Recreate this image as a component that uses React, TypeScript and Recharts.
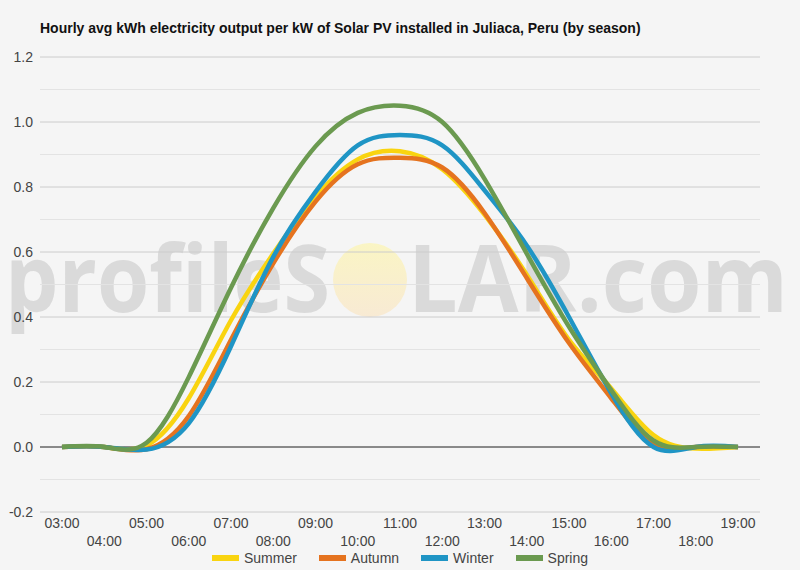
import { LineChart, Line, XAxis, YAxis, CartesianGrid, ReferenceLine, Legend } from "recharts";

// hourly average kWh per kW installed
const hours = [
  "03:00", "04:00", "05:00", "06:00", "07:00", "08:00", "09:00", "10:00", "11:00",
  "12:00", "13:00", "14:00", "15:00", "16:00", "17:00", "18:00", "19:00",
];
const summer = [0, 0, 0.005, 0.15, 0.39, 0.595, 0.77, 0.885, 0.91, 0.855, 0.715, 0.53, 0.33, 0.18, 0.037, -0.005, 0];
const autumn = [0, 0, -0.007, 0.095, 0.33, 0.565, 0.755, 0.87, 0.89, 0.86, 0.72, 0.52, 0.32, 0.15, 0.01, 0, 0];
const winter = [0, 0, -0.008, 0.073, 0.31, 0.585, 0.785, 0.928, 0.96, 0.928, 0.79, 0.62, 0.4, 0.165, 0, 0, 0];
const spring = [0, 0, 0.013, 0.215, 0.49, 0.735, 0.925, 1.028, 1.05, 1.0, 0.825, 0.595, 0.37, 0.175, 0.02, 0, 0];

const yTicks = [-0.2, 0, 0.2, 0.4, 0.6, 0.8, 1.0, 1.2];
const yMinor = [-0.1, 0.1, 0.3, 0.5, 0.7, 0.9, 1.1];

const series = [
  { key: "summer", name: "Summer", color: "#f9d410" },
  { key: "autumn", name: "Autumn", color: "#e5731f" },
  { key: "winter", name: "Winter", color: "#1f95c5" },
  { key: "spring", name: "Spring", color: "#6b9a50" },
];

const data = hours.map((hour, i) => ({
  hour,
  summer: summer[i],
  autumn: autumn[i],
  winter: winter[i],
  spring: spring[i],
}));

const FONT = "Arial, 'Liberation Sans', sans-serif";

const HourTick = (props: any) => {
  const { x, y, payload, index } = props;
  return (
    <text
      x={x}
      y={y + (index % 2 ? 34 : 16)}
      textAnchor="middle"
      fill="#444"
      fontSize={14}
      fontFamily={FONT}
    >
      {payload.value}
    </text>
  );
};

const SeasonLegend = () => (
  <div
    style={{
      display: "flex",
      justifyContent: "center",
      alignItems: "center",
      gap: "22px",
      height: "16px",
      fontFamily: FONT,
      fontSize: "14px",
      color: "#444",
    }}
  >
    {series.map((s) => (
      <div key={s.key} style={{ display: "flex", alignItems: "center", gap: "5px" }}>
        <div style={{ width: "27px", height: "6px", backgroundColor: s.color }} />
        <span>{s.name}</span>
      </div>
    ))}
  </div>
);

const Watermark = () => (
  <svg width={800} height={570} style={{ position: "absolute", left: 0, top: 0 }}>
    <defs>
      <linearGradient id="sun" x1="0" y1="0" x2="0" y2="1">
        <stop offset="0%" stopColor="#faf5c4" />
        <stop offset="100%" stopColor="#f8ead4" />
      </linearGradient>
    </defs>
    <text
      x={5}
      y={312}
      fontSize={94}
      fontWeight={700}
      fontFamily="'Open Sans', sans-serif"
      fill="#dadada"
      textLength={325}
      lengthAdjust="spacingAndGlyphs"
    >
      profileS
    </text>
    <circle cx={370} cy={280} r={37} fill="url(#sun)" />
    <text
      x={408}
      y={312}
      fontSize={94}
      fontWeight={700}
      fontFamily="'Open Sans', sans-serif"
      fill="#dadada"
      textLength={380}
      lengthAdjust="spacingAndGlyphs"
    >
      LAR.com
    </text>
  </svg>
);

const App = () => {
  return (
    <div style={{ position: "relative", width: 800, height: 570, backgroundColor: "#f5f5f5" }}>
      <style>{"body{margin:0;background:#f5f5f5}"}</style>
      <Watermark />
      <div
        style={{
          position: "absolute",
          left: 40,
          top: 20,
          fontFamily: FONT,
          fontWeight: "bold",
          fontSize: "14px",
          lineHeight: "16px",
          color: "#111",
          whiteSpace: "nowrap",
        }}
      >
        Hourly avg kWh electricity output per kW of Solar PV installed in Juliaca, Peru (by season)
      </div>
      <div style={{ position: "absolute", left: 0, top: 0 }}>
        <LineChart width={800} height={570} data={data} margin={{ top: 57, right: 40, bottom: 4, left: 0 }}>
          <CartesianGrid vertical={false} stroke="#cccccc" />
          {yMinor.map((v) => (
            <ReferenceLine key={v} y={v} stroke="#e3e3e3" />
          ))}
          <ReferenceLine y={0} stroke="#333" />
          <XAxis
            dataKey="hour"
            interval={0}
            height={38}
            axisLine={false}
            tickLine={false}
            tickSize={0}
            tickMargin={0}
            padding={{ left: 22, right: 22 }}
            tick={<HourTick />}
          />
          <YAxis
            domain={[-0.2, 1.2]}
            ticks={yTicks}
            width={40}
            axisLine={false}
            tickLine={false}
            tickSize={6}
            tickMargin={1}
            tickFormatter={(v: number) => v.toFixed(1)}
            tick={{ fill: "#444", fontSize: 14, fontFamily: FONT }}
          />
          {series.map((s) => (
            <Line
              key={s.key}
              dataKey={s.key}
              name={s.name}
              type="natural"
              stroke={s.color}
              strokeWidth={4.5}
              dot={false}
              activeDot={false}
              isAnimationActive={false}
            />
          ))}
          <Legend
            verticalAlign="bottom"
            content={<SeasonLegend />}
            wrapperStyle={{ left: 0, width: 800 }}
          />
        </LineChart>
      </div>
    </div>
  );
};

export default App;
